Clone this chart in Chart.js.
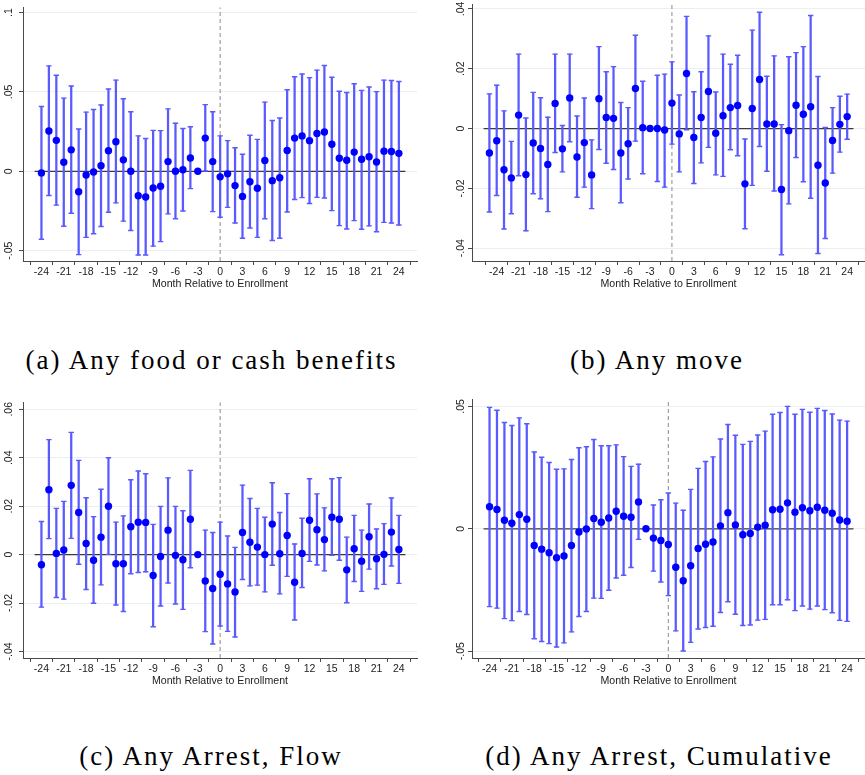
<!DOCTYPE html>
<html><head><meta charset="utf-8">
<script src="https://cdn.jsdelivr.net/npm/chart.js@4.4.1/dist/chart.umd.min.js"></script>
<style>
body{margin:0;background:#fff;width:865px;height:775px;position:relative;overflow:hidden}
canvas{position:absolute}
.cap{position:absolute;font-family:"Liberation Serif","Times New Roman",serif;font-size:27px;line-height:27px;letter-spacing:2px;text-align:center;color:#000;white-space:nowrap}
</style></head><body>
<canvas id="cA" width="430" height="295" style="left:0px;top:0px"></canvas>
<canvas id="cB" width="435" height="295" style="left:430px;top:0px"></canvas>
<canvas id="cC" width="430" height="297" style="left:0px;top:395px"></canvas>
<canvas id="cD" width="435" height="297" style="left:430px;top:395px"></canvas>
<div class="cap" style="left:0px;top:347px;width:423px">(a) Any food or cash benefits</div>
<div class="cap" style="left:430px;top:347px;width:454px">(b) Any move</div>
<div class="cap" style="left:0px;top:743px;width:422px">(c) Any Arrest, Flow</div>
<div class="cap" style="left:430px;top:743px;width:458px">(d) Any Arrest, Cumulative</div>
<script>
// ---------- data ----------
const xTickValues = [-24,-21,-18,-15,-12,-9,-6,-3,0,3,6,9,12,15,18,21,24];
const xTitle = 'Month Relative to Enrollment';

const monthsA = [-24,-23,-22,-21,-20,-19,-18,-17,-16,-15,-14,-13,-12,-11,-10,-9,-8,-7,-6,-5,-4,-3,-2,-1,0,1,2,3,4,5,6,7,8,9,10,11,12,13,14,15,16,17,18,19,20,21,22,23,24];
const estA = [-0.0010,0.0254,0.0195,0.0057,0.0135,-0.0129,-0.0023,-0.0004,0.0035,0.0129,0.0186,0.0072,0.0000,-0.0154,-0.0162,-0.0105,-0.0094,0.0061,0.0000,0.0010,0.0084,0.0000,0.0209,0.0061,-0.0035,-0.0016,-0.0090,-0.0158,-0.0066,-0.0107,0.0068,-0.0059,-0.0041,0.0131,0.0209,0.0223,0.0193,0.0238,0.0248,0.0170,0.0082,0.0070,0.0121,0.0076,0.0092,0.0059,0.0127,0.0125,0.0113];
const hiA = [0.0408,0.0664,0.0605,0.0461,0.0537,0.0266,0.0373,0.0389,0.0418,0.0518,0.0574,0.0457,0.0375,0.0223,0.0207,0.0258,0.0256,0.0393,0.0303,0.0270,0.0281,null,0.0420,0.0375,0.0223,0.0193,0.0148,0.0107,0.0227,0.0201,0.0436,0.0320,0.0336,0.0514,0.0596,0.0613,0.0590,0.0637,0.0666,0.0592,0.0504,0.0496,0.0551,0.0510,0.0531,0.0502,0.0574,0.0572,0.0566];
const loA = [-0.0428,-0.0152,-0.0213,-0.0346,-0.0264,-0.0525,-0.0416,-0.0393,-0.0348,-0.0258,-0.0199,-0.0314,-0.0373,-0.0527,-0.0527,-0.0471,-0.0443,-0.0268,-0.0299,-0.0250,-0.0109,null,0.0002,-0.0254,-0.0289,-0.0227,-0.0326,-0.0422,-0.0357,-0.0416,-0.0299,-0.0436,-0.0422,-0.0256,-0.0178,-0.0166,-0.0203,-0.0164,-0.0168,-0.0248,-0.0342,-0.0363,-0.0311,-0.0365,-0.0344,-0.0381,-0.0322,-0.0326,-0.0338];
const yTicksA = [-0.05,0,0.05,0.1];
const yLabelsA = ['-.05','0','.05','.1'];

const monthsB = [-25,-24,-23,-22,-21,-20,-19,-18,-17,-16,-15,-14,-13,-12,-11,-10,-9,-8,-7,-6,-5,-4,-3,-2,-1,0,1,2,3,4,5,6,7,8,9,10,11,12,13,14,15,16,17,18,19,20,21,22,23,24];
const estB = [-0.0082,-0.0041,-0.0138,-0.0165,0.0045,-0.0154,-0.0048,-0.0067,-0.0120,0.0084,-0.0068,0.0102,-0.0095,-0.0047,-0.0155,0.0100,0.0037,0.0034,-0.0082,-0.0051,0.0134,0.0003,0.0000,0.0000,-0.0005,0.0085,-0.0018,0.0184,-0.0030,0.0037,0.0124,-0.0016,0.0043,0.0070,0.0077,-0.0185,0.0067,0.0164,0.0015,0.0015,-0.0204,-0.0007,0.0078,0.0048,0.0073,-0.0123,-0.0182,-0.0040,0.0014,0.0040];
const hiB = [0.0116,0.0145,0.0059,-0.0043,0.0249,0.0035,0.0121,0.0103,0.0038,0.0249,0.0010,0.0249,0.0042,0.0102,-0.0038,0.0274,0.0190,0.0207,0.0087,0.0070,0.0312,0.0158,null,0.0178,0.0182,0.0223,0.0112,0.0375,0.0123,0.0190,0.0310,0.0122,0.0249,0.0215,0.0245,-0.0035,0.0329,0.0389,0.0175,0.0243,0.0013,0.0240,0.0254,0.0274,0.0378,0.0174,0.0004,0.0070,0.0108,0.0115];
const loB = [-0.0279,-0.0224,-0.0336,-0.0285,-0.0158,-0.0342,-0.0218,-0.0235,-0.0278,-0.0080,-0.0145,-0.0044,-0.0230,-0.0196,-0.0268,-0.0070,-0.0116,-0.0137,-0.0248,-0.0169,-0.0042,-0.0151,null,-0.0177,-0.0196,-0.0052,-0.0145,-0.0004,-0.0184,-0.0115,-0.0063,-0.0155,-0.0160,-0.0071,-0.0091,-0.0335,-0.0190,-0.0060,-0.0143,-0.0209,-0.0422,-0.0252,-0.0097,-0.0178,-0.0233,-0.0418,-0.0368,-0.0149,-0.0079,-0.0036];
const yTicksB = [-0.04,-0.02,0,0.02,0.04];
const yLabelsB = ['-.04','-.02','0','.02','.04'];

const monthsC = [-24,-23,-22,-21,-20,-19,-18,-17,-16,-15,-14,-13,-12,-11,-10,-9,-8,-7,-6,-5,-4,-3,-2,-1,0,1,2,3,4,5,6,7,8,9,10,11,12,13,14,15,16,17,18,19,20,21,22,23,24];
const estC = [-0.0042,0.0268,0.0005,0.0019,0.0286,0.0174,0.0046,-0.0023,0.0072,0.0200,-0.0038,-0.0038,0.0115,0.0134,0.0133,-0.0086,-0.0008,0.0101,-0.0003,-0.0021,0.0146,0.0000,-0.0109,-0.0140,-0.0081,-0.0121,-0.0154,0.0091,0.0051,0.0031,0.0000,0.0126,0.0004,0.0079,-0.0114,0.0005,0.0142,0.0103,0.0062,0.0154,0.0146,-0.0063,0.0024,-0.0027,0.0074,-0.0017,0.0001,0.0093,0.0021];
const hiC = [0.0137,0.0475,0.0191,0.0220,0.0505,0.0389,0.0235,0.0157,0.0270,0.0400,0.0134,0.0160,0.0309,0.0345,0.0334,0.0125,0.0199,0.0317,0.0199,0.0181,0.0348,null,0.0101,0.0091,0.0134,0.0077,0.0030,0.0287,0.0232,0.0191,0.0154,0.0297,0.0174,0.0252,0.0044,0.0150,0.0313,0.0251,0.0193,0.0313,0.0318,0.0072,0.0162,0.0101,0.0209,0.0106,0.0128,0.0234,0.0162];
const loC = [-0.0217,0.0066,-0.0177,-0.0184,0.0067,-0.0040,-0.0144,-0.0201,-0.0125,0.0001,-0.0208,-0.0235,-0.0079,-0.0074,-0.0071,-0.0298,-0.0212,-0.0117,-0.0204,-0.0226,-0.0054,null,-0.0318,-0.0369,-0.0295,-0.0317,-0.0340,-0.0103,-0.0129,-0.0126,-0.0154,-0.0044,-0.0162,-0.0090,-0.0270,-0.0136,-0.0028,-0.0043,-0.0067,-0.0003,-0.0023,-0.0199,-0.0111,-0.0152,-0.0060,-0.0141,-0.0123,-0.0047,-0.0119];
const yTicksC = [-0.04,-0.02,0,0.02,0.04,0.06];
const yLabelsC = ['-.04','-.02','0','.02','.04','.06'];

const monthsD = [-24,-23,-22,-21,-20,-19,-18,-17,-16,-15,-14,-13,-12,-11,-10,-9,-8,-7,-6,-5,-4,-3,-2,-1,0,1,2,3,4,5,6,7,8,9,10,11,12,13,14,15,16,17,18,19,20,21,22,23,24];
const estD = [0.0090,0.0079,0.0035,0.0023,0.0058,0.0039,-0.0068,-0.0083,-0.0098,-0.0118,-0.0111,-0.0068,-0.0013,-0.0001,0.0042,0.0027,0.0044,0.0072,0.0051,0.0047,0.0110,0.0000,-0.0038,-0.0048,-0.0064,-0.0157,-0.0212,-0.0151,-0.0080,-0.0063,-0.0054,0.0012,0.0066,0.0016,-0.0024,-0.0019,0.0007,0.0015,0.0078,0.0080,0.0106,0.0068,0.0086,0.0074,0.0088,0.0076,0.0064,0.0036,0.0031];
const hiD = [0.0496,0.0484,0.0434,0.0422,0.0453,0.0429,0.0314,0.0292,0.0271,0.0243,0.0245,0.0283,0.0331,0.0335,0.0365,0.0339,0.0339,0.0343,0.0295,0.0255,0.0264,null,0.0097,0.0119,0.0146,0.0105,0.0076,0.0161,0.0247,0.0275,0.0294,0.0367,0.0426,0.0382,0.0345,0.0357,0.0383,0.0399,0.0468,0.0475,0.0500,0.0468,0.0488,0.0476,0.0492,0.0483,0.0469,0.0444,0.0440];
const loD = [-0.0318,-0.0324,-0.0367,-0.0375,-0.0338,-0.0350,-0.0449,-0.0460,-0.0469,-0.0483,-0.0466,-0.0421,-0.0358,-0.0338,-0.0283,-0.0284,-0.0251,-0.0201,-0.0190,-0.0158,-0.0043,null,-0.0173,-0.0217,-0.0273,-0.0417,-0.0499,-0.0464,-0.0409,-0.0403,-0.0398,-0.0342,-0.0298,-0.0349,-0.0395,-0.0393,-0.0373,-0.0370,-0.0310,-0.0310,-0.0290,-0.0334,-0.0315,-0.0328,-0.0315,-0.0330,-0.0343,-0.0374,-0.0378];
const yTicksD = [-0.05,0,0.05];
const yLabelsD = ['-.05','0','.05'];

// ---------- styling ----------
Chart.defaults.font.family = '"Liberation Sans", Arial, Helvetica, sans-serif';
Chart.defaults.font.size = 10.5;
const DOT = '#0000ff';
const WHISK = '#5a5aff';
const AXIS = '#4a4a4a';
const GRID = '#e8f0f2';
const TEXT = '#222';

function buildPanel(id, p) {
  const dots = [], whisk = [], capHi = [], capLo = [];
  p.months.forEach((m, i) => {
    dots.push({x: m, y: p.est[i]});
    if (p.lo[i] !== null && p.hi[i] !== null) {
      whisk.push({x: m, y: [p.lo[i], p.hi[i]]});
      capHi.push({x: m, y: p.hi[i]});
      capLo.push({x: m, y: p.lo[i]});
    }
  });
  new Chart(document.getElementById(id), {
    type: 'scatter',
    data: {datasets: [
      {type: 'scatter', data: dots, pointRadius: 3.7, pointBackgroundColor: DOT, backgroundColor: DOT, pointBorderWidth: 0, borderWidth: 0, order: 0},
      {type: 'bar', data: whisk, backgroundColor: WHISK, barThickness: 1.6, borderWidth: 0, order: 1},
      {type: 'scatter', data: capHi, pointStyle: 'line', pointRadius: 2.7, pointBorderColor: WHISK, borderColor: WHISK, pointBorderWidth: 1.4, borderWidth: 1.4, order: 1},
      {type: 'scatter', data: capLo, pointStyle: 'line', pointRadius: 2.7, pointBorderColor: WHISK, borderColor: WHISK, pointBorderWidth: 1.4, borderWidth: 1.4, order: 1},
      {type: 'line', data: [{x: p.xMin, y: 0}, {x: p.xMax, y: 0}], borderColor: '#3a3a3a', borderWidth: 1.2, pointRadius: 0, order: 2},
      {type: 'line', data: [{x: 0, y: p.yMin}, {x: 0, y: p.yMax}], borderColor: '#8c8c8c', borderWidth: 1, borderDash: [4, 3], pointRadius: 0, order: 3}
    ]},
    options: {
      responsive: false, animation: false, devicePixelRatio: 1, events: [],
      layout: {padding: {left: 0, right: p.padRight, top: 0, bottom: 0}, autoPadding: false},
      plugins: {legend: {display: false}, tooltip: {enabled: false}},
      scales: {
        x: {
          type: 'linear', min: p.xMin, max: p.xMax,
          afterBuildTicks: s => { s.ticks = xTickValues.map(v => ({value: v})); },
          afterFit: s => { s.height = 34; },
          ticks: {autoSkip: false, maxRotation: 0, minRotation: 0, padding: 0.5, color: TEXT, font: {size: 10.5}, callback: v => String(v)},
          grid: {drawOnChartArea: false, drawTicks: true, tickLength: 4, tickColor: AXIS, tickWidth: 1},
          border: {display: true, color: AXIS, width: 1},
          title: {display: true, text: xTitle, color: TEXT, font: {size: 10.6}, padding: {top: 0, bottom: 4.3}}
        },
        y: {
          type: 'linear', min: p.yMin, max: p.yMax,
          afterBuildTicks: s => { s.ticks = p.yTicks.map(v => ({value: v})); },
          afterFit: s => { s.width = p.yWidth; },
          ticks: {minRotation: 90, maxRotation: 90, crossAlign: 'center', padding: p.yPad, color: TEXT, font: {size: 10.5},
                  callback: (v, i) => p.yLabels[i]},
          grid: {color: GRID, lineWidth: 1, drawTicks: true, tickLength: 4, tickColor: AXIS, tickWidth: 1},
          border: {display: true, color: AXIS, width: 1}
        }
      }
    }
  });
}

buildPanel('cA', {months: monthsA, est: estA, hi: hiA, lo: loA, yTicks: yTicksA, yLabels: yLabelsA,
  xMin: -24.92, xMax: 24.88, yMin: -0.0565, yMax: 0.1033, yWidth: 23, padRight: 13, yPad: 1.0});
buildPanel('cB', {months: monthsB, est: estB, hi: hiB, lo: loB, yTicks: yTicksB, yLabels: yLabelsB,
  xMin: -25.8, xMax: 24.86, yMin: -0.0443, yMax: 0.04155, yWidth: 42, padRight: 0, yPad: -2.0});
buildPanel('cC', {months: monthsC, est: estC, hi: hiC, lo: loC, yTicks: yTicksC, yLabels: yLabelsC,
  xMin: -24.92, xMax: 24.88, yMin: -0.0427, yMax: 0.0629, yWidth: 23, padRight: 13, yPad: 1.0});
buildPanel('cD', {months: monthsD, est: estD, hi: hiD, lo: loD, yTicks: yTicksD, yLabels: yLabelsD,
  xMin: -24.8, xMax: 24.85, yMin: -0.05277, yMax: 0.0529, yWidth: 42, padRight: 0, yPad: -2.0});
</script>
</body></html>
